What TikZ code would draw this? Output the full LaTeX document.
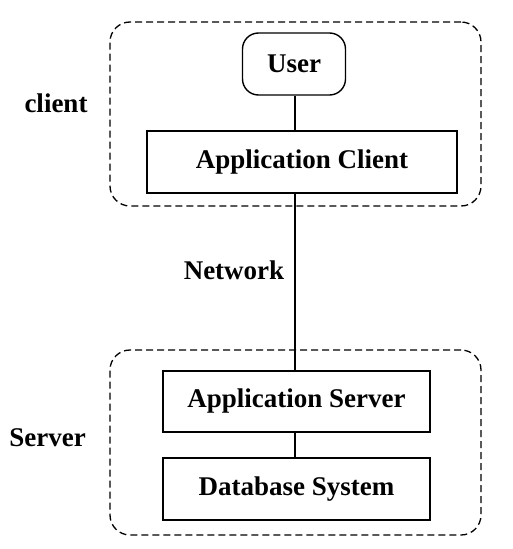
\documentclass[tikz,border=0pt]{standalone}
\usepackage{fontspec}
\setmainfont{Liberation Serif}
\begin{document}
\begin{tikzpicture}[x=1pt,y=-1pt,
  every node/.style={font=\fontsize{27}{30}\selectfont\bfseries, inner sep=0pt},
  grp/.style={draw, dashed, dash pattern=on 7pt off 4pt, line width=1.3pt, rounded corners=20pt},
  box/.style={draw, line width=1.4pt},
  rbox/.style={draw, line width=1.4pt, rounded corners=16pt},
  conn/.style={line width=1.4pt}]
\useasboundingbox (0,0) rectangle (513,549);
% groups
\node[grp, minimum width=371pt, minimum height=184pt] (gclient) at (295.5,114) {};
\node[grp, minimum width=371pt, minimum height=185pt] (gserver) at (295.5,442.5) {};
% nodes
\node[rbox, minimum width=103pt, minimum height=62pt] (user) at (294,64) {User};
\node[box, minimum width=310pt, minimum height=62pt] (appclient) at (302,162) {Application Client};
\node[box, minimum width=267pt, minimum height=61pt] (appserver) at (296.5,401.5) {Application Server};
\node[box, minimum width=267pt, minimum height=62pt] (dbsys) at (296.5,489) {Database System};
% labels
\node (lclient) at (56,103) {client};
\node (lserver) at (47.5,438) {Server};
\node (lnet) at (234,270) {Network};
% connectors
\coordinate (cx) at (295,0);
\draw[conn] (user.south -| cx) -- (appclient.north -| cx);
\draw[conn] (appclient.south -| cx) -- (appserver.north -| cx);
\draw[conn] (appserver.south -| cx) -- (dbsys.north -| cx);
\end{tikzpicture}
\end{document}
